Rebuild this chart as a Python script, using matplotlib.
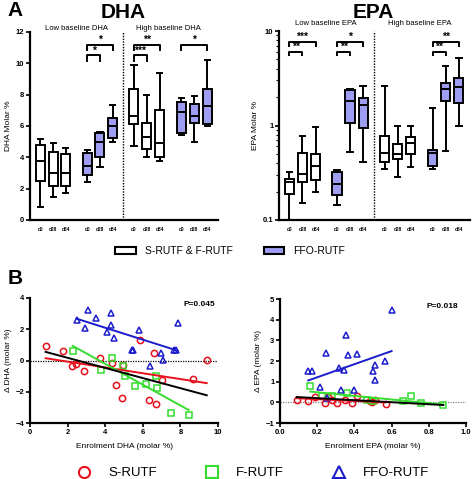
import numpy as np
import matplotlib
matplotlib.use("Agg")
import matplotlib.pyplot as plt
from matplotlib.patches import Patch
from matplotlib.lines import Line2D

plt.rcParams['font.family'] = ['Liberation Sans', 'DejaVu Sans']
plt.rcParams['font.weight'] = 'bold'

# ---- panel A data: box stats (whislo, q1, med, q3, whishi) ----
days = ["d0", "d28", "d84"] * 4
groups_white = [True, True, True, False, False, False, True, True, True, False, False, False]

dha_whislo = [0.8, 1.5, 1.75, 2.45, 3.4, 4.95, 4.7, 4.0, 3.75, 5.4, 4.95, 6.0]
dha_q1 = [2.5, 2.15, 2.15, 2.9, 4.0, 5.25, 6.15, 4.55, 4.05, 5.55, 6.2, 6.1]
dha_med = [3.75, 3.0, 3.0, 3.45, 5.0, 6.0, 6.65, 5.3, 4.9, 6.9, 6.65, 7.3]
dha_q3 = [4.8, 4.35, 4.2, 4.3, 5.55, 6.5, 8.35, 6.2, 7.05, 7.55, 7.4, 8.35]
dha_whishi = [5.15, 4.9, 4.6, 4.45, 5.6, 7.35, 9.9, 7.95, 9.4, 7.8, 7.9, 10.2]

epa_whislo = [0.1, 0.153, 0.2, 0.145, 0.525, 0.41, 0.35, 0.285, 0.36, 0.35, 0.535, 1.0]
epa_q1 = [0.19, 0.255, 0.262, 0.185, 1.05, 0.94, 0.41, 0.44, 0.5, 0.37, 1.8, 1.75]
epa_med = [0.255, 0.31, 0.375, 0.24, 1.8, 1.65, 0.51, 0.5, 0.66, 0.51, 2.45, 2.55]
epa_q3 = [0.27, 0.51, 0.5, 0.325, 2.4, 1.95, 0.78, 0.63, 0.76, 0.555, 2.85, 3.2]
epa_whishi = [0.325, 0.78, 0.97, 0.335, 2.45, 2.65, 2.6, 0.98, 0.98, 1.55, 4.25, 5.2]

# significance brackets: (first box, last box, level, stars)
dha_sig = [(3, 5, 11.2, "*"), (3, 4, 10.5, "*"), (6, 8, 11.2, "**"), (6, 7, 10.5, "***"), (9, 11, 11.2, "*")]
epa_sig = [(0, 2, 7.6, "***"), (0, 1, 6.0, "**"), (3, 5, 7.6, "*"), (3, 4, 6.0, "**"), (9, 11, 7.6, "**"), (9, 10, 6.0, "**")]

# ---- panel B data ----
dha_red_x = [0.83, 1.76, 2.25, 2.45, 2.89, 3.72, 4.34, 4.96, 4.57, 4.88, 5.85, 6.6, 6.31, 6.7, 7.04, 8.65, 9.4]
dha_red_y = [0.96, 0.62, -0.32, -0.23, -0.66, 0.19, -0.13, -0.28, -1.55, -2.43, 1.3, 0.51, -2.53, -2.81, -1.26, -1.21, 0.06]
dha_green_x = [2.27, 3.76, 4.34, 4.93, 5.05, 5.59, 6.15, 6.7, 6.74, 7.48, 8.44]
dha_green_y = [0.64, -0.62, 0.13, -0.32, -0.96, -1.64, -1.53, -1.0, -1.79, -3.34, -3.51]
dha_blue_x = [2.48, 3.1, 3.49, 2.93, 4.29, 4.29, 4.08, 4.47, 5.8, 5.41, 5.5, 7.85, 6.95, 7.06, 6.38, 7.68, 7.75]
dha_blue_y = [2.62, 3.21, 2.7, 2.09, 3.04, 2.28, 1.83, 1.45, 1.98, 0.7, 0.66, 2.43, 0.45, 0.06, -0.32, 0.7, 0.66]
# fitted lines (slope, intercept)
dha_fits = {"red": (-0.186, 0.30), "green": (-0.666, 2.45), "blue": (-0.381, 3.62), "black": (-0.324, 0.82)}

epa_red_x = [0.09, 0.15, 0.19, 0.24, 0.26, 0.28, 0.305, 0.35, 0.385, 0.416, 0.484, 0.493, 0.51, 0.568]
epa_red_y = [0.09, 0.05, 0.25, -0.03, 0.26, 0.09, -0.03, 0.09, -0.03, 0.32, 0.08, 0.04, 0.13, -0.07]
epa_green_x = [0.163, 0.224, 0.28, 0.36, 0.466, 0.5, 0.663, 0.706, 0.756, 0.878]
epa_green_y = [0.81, 0.32, 0.29, 0.44, 0.13, 0.05, 0.05, 0.29, -0.03, -0.12]
epa_blue_x = [0.152, 0.174, 0.215, 0.246, 0.328, 0.317, 0.344, 0.355, 0.367, 0.416, 0.396, 0.498, 0.513, 0.513, 0.563, 0.6, 0.251]
epa_blue_y = [1.5, 1.53, 0.74, 2.38, 0.61, 1.64, 1.56, 3.27, 2.27, 2.33, 0.61, 1.5, 1.83, 1.06, 1.98, 4.48, 0.21]
epa_fits = {"red": (-0.43, 0.24), "green": (-0.88, 0.665), "blue": (3.17, 0.578), "black": (-0.49, 0.30)}

purple = "#9d9df2"
red = "#e8101c"
green = "#35dd2e"
blue = "#1c1ccc"

W, H = 473, 479
fig = plt.figure(figsize=(W / 100, H / 100), dpi=100)


def box(l, t, r, b):
    return fig.add_axes([l / W, 1 - b / H, (r - l) / W, (b - t) / H])


pos = [1, 2, 3, 4.65, 5.65, 6.65, 8.3, 9.3, 10.3, 12, 13, 14]


def style(ax):
    for s in ["top", "right"]:
        ax.spines[s].set_visible(False)
    for s in ["left", "bottom"]:
        ax.spines[s].set_linewidth(1.6)
    ax.tick_params(width=1.2, length=3, labelsize=5.5, pad=1)


def box_panel(ax, lo, q1, med, q3, hi, sig, log=False):
    stats = []
    for i in range(len(med)):
        stats.append(dict(whislo=lo[i], q1=q1[i], med=med[i], q3=q3[i], whishi=hi[i], fliers=[]))
    bp = ax.bxp(stats, positions=pos, widths=0.7, patch_artist=True, showfliers=False,
                capwidths=0.4,
                boxprops=dict(linewidth=1.4, edgecolor="black"),
                whiskerprops=dict(linewidth=1.4), capprops=dict(linewidth=1.4),
                medianprops=dict(color="black", linewidth=1.4))
    for p, w in zip(bp["boxes"], groups_white):
        p.set_facecolor("white" if w else purple)
    ax.axvline(7.475, color="black", linestyle=(0, (1, 1)), linewidth=1.0)
    ax.set_xlim(0.2, 14.85)
    ax.set_xticks(pos)
    ax.set_xticklabels(days, fontsize=3.4)
    ax.tick_params(axis="x", length=0, pad=5)
    for a, b_, lev, stars in sig:
        drop = lev * 0.08 if log else 0.35
        ax.plot([pos[a], pos[a], pos[b_], pos[b_]], [lev - drop, lev, lev, lev - drop],
                color="black", lw=1.4, clip_on=False)
        ax.text((pos[a] + pos[b_]) / 2, lev * (1.0 if log else 1) + (0 if log else 0.0), stars,
                ha="center", va="bottom", fontsize=7.5)


# ---- A: DHA boxes ----
ax1 = box(30, 32, 218, 220)
style(ax1)
box_panel(ax1, dha_whislo, dha_q1, dha_med, dha_q3, dha_whishi, dha_sig)
ax1.set_ylim(0, 12)
ax1.set_yticks(range(0, 13, 2))
ax1.set_ylabel("DHA Molar %", fontsize=6, labelpad=3)
ax1.text(3.8, 12.25, "Low baseline DHA", ha="center", va="center", fontsize=5.5, weight="normal")
ax1.text(11.0, 12.25, "High baseline DHA", ha="center", va="center", fontsize=5.5, weight="normal")

# ---- A: EPA boxes ----
ax2 = box(279, 31, 470, 220)
style(ax2)
ax2.set_yscale("log")
box_panel(ax2, epa_whislo, epa_q1, epa_med, epa_q3, epa_whishi, epa_sig, log=True)
ax2.set_ylim(0.1, 10)
ax2.set_yticks([0.1, 1, 10])
ax2.set_yticklabels(["0.1", "1", "10"])
ax2.tick_params(axis="y", which="minor", length=2, width=0.8)
ax2.set_ylabel("EPA Molar %", fontsize=6, labelpad=3)
ax2.text(3.8, 12.0, "Low baseline EPA", ha="center", va="center", fontsize=5.5, weight="normal")
ax2.text(11.0, 12.0, "High baseline EPA", ha="center", va="center", fontsize=5.5, weight="normal")

fig.text(15 / W, 1 - 11 / H, "A", fontsize=15, weight="bold", ha="center", va="center")
fig.text(123 / W, 1 - 12 / H, "DHA", fontsize=15, weight="bold", ha="center", va="center")
fig.text(373 / W, 1 - 12 / H, "EPA", fontsize=15, weight="bold", ha="center", va="center")

handles = [Patch(facecolor="white", edgecolor="black", linewidth=1.5, label="S-RUTF & F-RUTF"),
           Patch(facecolor=purple, edgecolor="black", linewidth=1.5, label="FFO-RUTF")]
fig.legend(handles=handles, loc="center", bbox_to_anchor=(230 / W, 1 - 251 / H), ncol=2, frameon=False,
           handlelength=2.0, handleheight=0.7, columnspacing=3.0, handletextpad=0.8,
           prop=dict(weight="normal", size=7.5))


# ---- B: scatter ----
def scatter_panel(ax, rx, ry, gx, gy, bx, by, fits):
    ax.plot(rx, ry, "o", ms=4.5, mfc="none", mec=red, mew=1.1)
    ax.plot(gx, gy, "s", ms=4.5, mfc="none", mec=green, mew=1.1)
    ax.plot(bx, by, "^", ms=4.5, mfc="none", mec=blue, mew=1.1)
    ranges = {"red": rx, "green": gx, "blue": bx, "black": rx + gx}
    cols = {"red": red, "green": green, "blue": blue, "black": "black"}
    for k in ["red", "green", "blue", "black"]:
        s, c = fits[k]
        xs = np.array([min(ranges[k]), max(ranges[k])])
        ax.plot(xs, s * xs + c, color=cols[k], lw=1.4)


ax3 = box(30, 298, 218, 423)
style(ax3)
ax3.axhline(0, color="black", linestyle=(0, (1, 1)), lw=0.9)
scatter_panel(ax3, dha_red_x, dha_red_y, dha_green_x, dha_green_y, dha_blue_x, dha_blue_y, dha_fits)
ax3.set_xlim(0, 10)
ax3.set_ylim(-4, 4)
ax3.set_xticks(range(0, 11, 2))
ax3.set_yticks(range(-4, 5, 2))
ax3.set_xlabel("Enrolment DHA (molar %)", fontsize=6, labelpad=5)
ax3.set_ylabel("Δ DHA (molar %)", fontsize=6, labelpad=3)
ax3.text(9.0, 3.8, "P=0.045", ha="center", va="top", fontsize=6)

ax4 = box(280, 299, 466, 423)
style(ax4)
ax4.axhline(0, color="#888888", linestyle=(0, (1, 1)), lw=0.9)
scatter_panel(ax4, epa_red_x, epa_red_y, epa_green_x, epa_green_y, epa_blue_x, epa_blue_y, epa_fits)
ax4.set_xlim(0, 1.0)
ax4.set_ylim(-1, 5)
ax4.set_xticks(np.arange(0, 1.01, 0.2))
ax4.set_xticklabels(["0.0", "0.2", "0.4", "0.6", "0.8", "1.0"])
ax4.set_yticks(range(-1, 6))
ax4.set_xlabel("Enrolment EPA (molar %)", fontsize=6, labelpad=5)
ax4.set_ylabel("Δ EPA (molar %)", fontsize=6, labelpad=3)
ax4.text(0.87, 4.8, "P=0.018", ha="center", va="top", fontsize=6)

fig.text(15 / W, 1 - 279 / H, "B", fontsize=15, weight="bold", ha="center", va="center")

h2 = [Line2D([], [], ls="none", marker="o", ms=8, mfc="none", mec=red, mew=1.5, label="S-RUTF"),
      Line2D([], [], ls="none", marker="s", ms=8, mfc="none", mec=green, mew=1.5, label="F-RUTF"),
      Line2D([], [], ls="none", marker="^", ms=8, mfc="none", mec=blue, mew=1.5, label="FFO-RUTF")]
fig.legend(handles=h2, loc="center", bbox_to_anchor=(250 / W, 1 - 473 / H), ncol=3, frameon=False,
           handletextpad=0.8, columnspacing=3.2, prop=dict(weight="normal", size=9.5))

fig.savefig("out.png", dpi=100)
